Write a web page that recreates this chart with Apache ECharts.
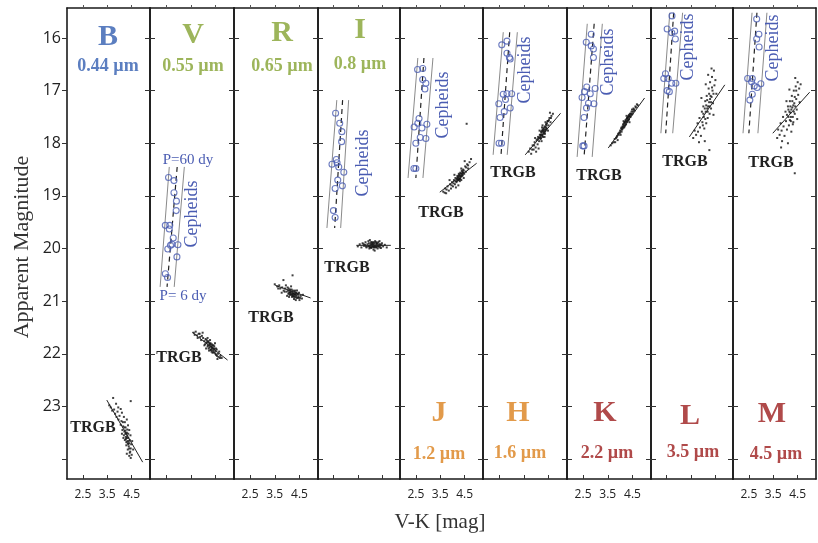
<!DOCTYPE html>
<html>
<head>
<meta charset="utf-8">
<script src="https://cdn.jsdelivr.net/npm/echarts@6/dist/echarts.min.js"></script>
<style>
  html, body { margin: 0; padding: 0; background: #fff; }
  #chart { width: 818px; height: 543px; }
</style>
</head>
<body>
<div id="chart"></div>
<script>
// ---- tick marks ----
const xTicks = [2.5, 3.5, 4.5];
const yTicks = [16, 17, 18, 19, 20, 21, 22, 23, 24];
const yTickLabels = [16, 17, 18, 19, 20, 21, 22, 23];

// ---- filter bands ----
const bands = ['B', 'V', 'R', 'I', 'J', 'H', 'K', 'L', 'M'];
const wavelengths = ['0.44 µm', '0.55 µm', '0.65 µm', '0.8 µm', '1.2 µm', '1.6 µm', '2.2 µm', '3.5 µm', '4.5 µm'];

// ---- Cepheid variables [V-K, apparent mag] ----
const cephV = [[2.60,18.65],[2.82,18.71],[2.82,18.94],[2.92,19.10],[2.91,19.28],[2.47,19.56],[2.63,19.63],[2.65,19.56],[2.79,19.80],[2.68,19.94],[2.57,20.01],[2.98,19.93],[2.94,20.16],[2.47,20.48],[2.56,20.55],[2.74,19.92]];
const cephI = [[2.58,17.43],[2.75,17.62],[2.84,17.78],[2.83,17.97],[2.61,18.31],[2.43,18.40],[2.64,18.37],[2.92,18.55],[2.67,18.70],[2.56,18.86],[2.86,18.81],[2.49,19.28],[2.56,19.41],[2.71,18.45]];
const cephJ = [[2.57,16.60],[2.78,16.58],[2.78,16.79],[2.91,16.86],[2.87,16.97],[2.63,17.53],[2.43,17.69],[2.58,17.62],[2.75,17.71],[2.95,17.64],[2.68,17.89],[2.91,17.91],[2.50,18.00],[2.42,18.48],[2.50,18.48]];
const cephH = [[2.61,16.13],[2.82,16.06],[2.82,16.29],[2.92,16.37],[2.95,16.40],[2.67,17.07],[2.82,17.06],[2.49,17.25],[2.76,17.17],[3.01,17.06],[2.71,17.40],[2.95,17.33],[2.54,17.51],[2.50,18.00],[2.60,18.00]];
const cephK = [[2.63,16.08],[2.83,15.93],[2.83,16.15],[2.92,16.21],[2.92,16.37],[2.65,16.93],[2.56,17.02],[2.46,17.13],[2.79,17.06],[2.99,16.96],[2.72,17.24],[2.64,17.33],[2.94,17.25],[2.54,17.51],[2.49,18.05],[2.54,18.05]];
const cephL = [[2.72,15.58],[2.52,15.83],[2.71,15.90],[2.83,15.87],[2.86,16.02],[2.45,16.68],[2.56,16.77],[2.71,16.86],[2.88,16.86],[2.52,17.00],[2.61,17.02],[2.38,16.77]];
const cephM = [[2.82,15.64],[2.91,15.93],[2.82,16.02],[2.92,16.17],[2.45,16.77],[2.64,16.77],[2.61,16.83],[2.72,16.91],[2.84,16.94],[2.99,16.87],[2.64,17.07],[2.54,17.18]];

// ---- Cepheid instability strip: [V-K at bright end, V-K at faint end] for edge, ridge, edge ----
const stripMagV = [18.45, 20.73];
const stripV = [[2.63, 2.26], [2.95, 2.54], [3.24, 2.83]];
const stripMagI = [17.18, 19.61];
const stripI = [[2.63, 2.22], [2.87, 2.54], [3.12, 2.79]];
const stripMagJ = [16.38, 18.66];
const stripJ = [[2.58, 2.18], [2.83, 2.50], [3.20, 2.79]];
const stripMagH = [15.89, 18.22];
const stripH = [[2.67, 2.26], [2.93, 2.58], [3.24, 2.83]];
const stripMagK = [15.73, 18.26];
const stripK = [[2.67, 2.26], [2.95, 2.54], [3.28, 2.87]];
const stripMagL = [15.52, 17.81];
const stripL = [[2.63, 2.26], [2.79, 2.46], [3.16, 2.75]];
const stripMagM = [15.52, 17.81];
const stripM = [[2.63, 2.26], [2.83, 2.50], [3.24, 2.87]];

// ---- red giant branch stars near the tip [V-K, apparent mag] ----
const rgbB = [[3.74,22.84],[4.46,22.90],[3.86,22.95],[3.95,23.02],[4.05,23.05],[3.92,23.10],[4.10,23.12],[4.00,23.18],[4.18,23.20],[3.96,23.25],[4.08,23.28],[4.22,23.30],[4.30,23.25],[4.05,23.35],[4.15,23.38],[4.25,23.40],[4.35,23.36],[4.12,23.45],[4.20,23.48],[4.30,23.50],[4.40,23.45],[4.18,23.55],[4.26,23.58],[4.36,23.60],[4.45,23.55],[4.22,23.64],[4.32,23.66],[4.40,23.70],[4.28,23.74],[4.38,23.76],[4.48,23.72],[4.34,23.82],[4.44,23.86],[4.30,23.90],[4.40,23.94],[4.50,23.92],[4.16,23.60],[4.10,23.52],[4.46,23.80],[4.52,23.66],
  [3.58,22.98],[3.64,23.02],[3.70,23.08],[3.78,23.06],[3.82,23.14],[3.88,23.20],[4.24,23.46],[4.28,23.52],[4.32,23.56],[4.26,23.62],[4.34,23.70],[4.30,23.60],[4.38,23.66],[4.24,23.52],[4.36,23.52],[4.42,23.64],[4.28,23.68],[4.40,23.80],[4.46,23.98],[4.56,23.82],[4.20,23.40],[4.14,23.30],[4.32,23.44],[4.36,23.72],[4.42,23.88]];
const rgbV = [[3.62,21.60],[3.70,21.58],[3.75,21.65],[3.82,21.62],[3.88,21.68],[3.95,21.66],[3.92,21.74],[4.00,21.70],[4.05,21.76],[4.10,21.72],[4.08,21.82],[4.15,21.78],[4.20,21.84],[4.25,21.80],[4.22,21.90],[4.30,21.86],[4.35,21.82],[4.32,21.93],[4.40,21.90],[4.45,21.86],[4.42,21.97],[4.50,21.95],[4.55,21.92],[4.52,22.02],[4.60,22.00],[4.65,21.96],[4.62,22.06],[4.70,22.04],[4.75,22.08],[4.18,21.70],[4.28,21.74],[4.12,21.90],[4.38,21.98],[4.48,21.80],[3.98,21.60],[4.58,22.10],[4.36,21.88],[4.26,21.88],[4.46,21.92],[4.05,21.84],
  [4.14,21.80],[4.18,21.86],[4.22,21.78],[4.26,21.84],[4.30,21.80],[4.30,21.92],[4.34,21.86],[4.38,21.84],[4.40,21.94],[4.44,21.90],[4.24,21.94],[4.34,21.96],[4.20,21.76],[4.46,21.98],[4.28,21.82],[3.66,21.64],[3.78,21.70],[3.86,21.62],[4.52,21.90],[4.56,22.04],[4.68,22.08],[4.14,21.74],[4.36,21.90],[4.42,21.84],[4.50,22.00]];
const rgbR = [[3.50,20.68],[3.60,20.72],[3.68,20.70],[3.72,20.76],[3.80,20.74],[3.85,20.60],[3.86,20.80],[3.92,20.76],[3.98,20.82],[4.02,20.74],[4.05,20.86],[4.10,20.80],[4.14,20.88],[4.18,20.78],[4.22,20.84],[4.22,20.51],[4.26,20.90],[4.30,20.82],[4.34,20.88],[4.38,20.94],[4.42,20.86],[4.46,20.92],[4.50,20.98],[4.55,20.90],[4.60,20.95],[4.08,20.92],[4.28,20.96],[3.95,20.70],[4.16,20.72],[4.40,20.80],[4.64,20.88],[4.35,20.98],[4.20,20.92],[4.00,20.90],[4.48,20.84],[3.78,20.84],[4.12,20.84],[4.32,20.86],
  [4.04,20.80],[4.08,20.84],[4.12,20.78],[4.16,20.86],[4.18,20.82],[4.20,20.88],[4.24,20.80],[4.26,20.86],[4.28,20.92],[4.30,20.88],[4.32,20.80],[4.36,20.84],[4.38,20.90],[4.40,20.86],[4.44,20.94],[4.10,20.88],[4.22,20.90],[4.34,20.92],[3.90,20.82],[4.06,20.76],[4.46,20.88],[4.52,20.94],[4.14,20.82],[4.24,20.86],[3.64,20.76]];
const rgbI = [[3.50,19.96],[3.58,19.92],[3.65,19.98],[3.70,19.90],[3.76,19.95],[3.82,19.88],[3.86,19.98],[3.90,19.92],[3.94,19.86],[3.98,20.00],[4.02,19.94],[4.05,19.88],[4.08,19.97],[4.12,19.90],[4.15,20.02],[4.18,19.94],[4.22,19.86],[4.25,19.98],[4.28,19.91],[4.32,20.00],[4.35,19.88],[4.38,19.95],[4.42,19.92],[4.46,19.99],[4.50,19.90],[4.55,19.96],[4.62,19.93],[4.70,19.98],[4.00,19.84],[4.20,20.04],[3.96,19.95],[4.10,19.94],[4.30,19.94],[3.80,19.93],[4.40,19.86],[4.16,19.97],
  [3.92,19.96],[3.96,19.90],[4.00,19.97],[4.04,19.91],[4.06,19.99],[4.10,19.88],[4.12,19.96],[4.14,19.92],[4.18,19.98],[4.20,19.90],[4.24,19.94],[4.26,19.88],[4.28,19.97],[4.30,19.90],[4.34,19.96],[4.36,19.92],[4.02,19.98],[4.16,19.88],[4.22,19.96],[4.08,19.92],[3.84,19.96],[3.74,19.92],[4.44,19.95],[4.48,19.93],[4.40,19.98]];
const rgbJ = [[3.62,18.92],[3.70,18.86],[3.74,18.95],[3.80,18.82],[3.85,18.90],[3.90,18.78],[3.94,18.86],[3.98,18.74],[4.02,18.82],[4.06,18.70],[4.10,18.78],[4.12,18.66],[4.16,18.74],[4.20,18.62],[4.22,18.70],[4.26,18.58],[4.28,18.68],[4.32,18.56],[4.34,18.64],[4.38,18.52],[4.40,18.62],[4.44,18.50],[4.48,18.58],[4.52,18.44],[4.55,18.54],[4.60,18.40],[4.64,18.48],[4.70,18.36],[4.76,18.30],[4.58,17.63],[4.30,18.72],[4.18,18.68],[4.36,18.48],[4.46,18.66],[4.08,18.60],[4.24,18.80],[3.88,18.70],[4.50,18.34],[4.14,18.84],[4.42,18.56],
  [4.18,18.72],[4.22,18.64],[4.24,18.68],[4.26,18.62],[4.28,18.60],[4.30,18.66],[4.32,18.62],[4.34,18.58],[4.36,18.62],[4.38,18.58],[4.40,18.54],[4.42,18.60],[4.44,18.56],[4.20,18.66],[4.26,18.70],[4.32,18.68],[4.46,18.52],[4.12,18.72],[3.96,18.80],[4.04,18.76],[3.76,18.88],[3.68,18.94],[4.56,18.46],[4.64,18.42],[4.36,18.70]];
const rgbH = [[3.70,18.16],[3.76,18.10],[3.80,18.20],[3.86,18.04],[3.90,18.12],[3.94,17.98],[3.98,18.08],[4.02,17.94],[4.06,18.02],[4.08,17.88],[4.12,17.96],[4.15,17.84],[4.18,17.92],[4.20,17.78],[4.24,17.86],[4.27,17.74],[4.30,17.82],[4.33,17.70],[4.36,17.78],[4.40,17.64],[4.43,17.72],[4.46,17.58],[4.50,17.66],[4.54,17.52],[4.58,17.60],[4.62,17.48],[4.68,17.44],[4.00,18.16],[4.10,18.10],[4.22,17.96],[4.34,17.88],[4.38,17.60],[4.26,17.66],[4.14,17.76],[4.48,17.76],[4.56,17.42],[3.96,17.90],[4.30,17.76],[4.20,17.84],[4.40,17.74],
  [4.16,17.88],[4.18,17.84],[4.22,17.80],[4.24,17.76],[4.26,17.84],[4.28,17.78],[4.30,17.72],[4.32,17.80],[4.34,17.74],[4.36,17.68],[4.38,17.76],[4.40,17.70],[4.42,17.66],[4.44,17.62],[4.20,17.90],[4.28,17.88],[4.36,17.82],[4.12,17.90],[4.06,17.92],[3.92,18.04],[3.84,18.12],[4.48,17.58],[4.52,17.56],[4.60,17.52],[4.24,17.70]];
const rgbK = [[3.62,18.04],[3.68,18.00],[3.74,17.98],[3.78,17.92],[3.84,17.90],[3.88,17.86],[3.92,17.82],[3.96,17.80],[4.00,17.76],[4.04,17.72],[4.06,17.78],[4.10,17.68],[4.12,17.64],[4.16,17.70],[4.18,17.60],[4.22,17.56],[4.24,17.64],[4.28,17.52],[4.30,17.58],[4.34,17.48],[4.36,17.54],[4.40,17.44],[4.42,17.50],[4.46,17.40],[4.50,17.44],[4.54,17.34],[4.58,17.38],[4.62,17.30],[4.68,17.26],[4.72,17.28],[3.90,17.94],[4.02,17.84],[4.14,17.58],[4.26,17.48],[4.38,17.60],[4.20,17.66],[3.80,17.98],[4.48,17.36],[4.08,17.74],[4.32,17.56],
  [4.12,17.70],[4.14,17.66],[4.16,17.62],[4.18,17.68],[4.20,17.60],[4.22,17.64],[4.24,17.58],[4.26,17.54],[4.28,17.60],[4.30,17.52],[4.32,17.50],[4.34,17.56],[4.36,17.46],[4.38,17.50],[4.40,17.48],[4.44,17.44],[4.10,17.72],[4.06,17.70],[4.00,17.80],[3.94,17.84],[3.86,17.88],[4.46,17.46],[4.52,17.40],[4.56,17.36],[4.64,17.32]];
const rgbL = [[3.60,17.90],[3.66,17.76],[3.72,17.84],[3.78,17.62],[3.80,17.78],[3.86,17.52],[3.88,17.70],[3.92,17.86],[3.96,17.40],[3.98,17.60],[4.02,17.30],[4.04,17.50],[4.06,17.72],[4.10,17.20],[4.12,17.40],[4.14,17.62],[4.16,17.10],[4.18,17.34],[4.20,17.52],[4.24,16.96],[4.26,17.22],[4.28,17.44],[4.30,16.84],[4.32,17.10],[4.34,17.34],[4.38,16.74],[4.40,17.00],[4.42,17.24],[4.46,16.62],[4.48,16.90],[4.52,16.80],[4.36,16.58],[4.27,18.13],[4.08,17.96],[3.84,17.98],[4.22,16.70],[4.44,17.46],[4.12,16.88],[3.94,17.14],[4.56,17.06],
  [4.02,17.44],[4.08,17.34],[4.14,17.28],[4.18,17.18],[4.22,17.30],[4.26,17.06],[4.30,17.16],[4.34,17.22],[4.38,16.94],[4.20,17.40],[4.10,17.54],[4.00,17.66],[4.28,17.30],[4.44,17.06],[4.36,17.12]];
const rgbM = [[3.66,17.90],[3.70,17.74],[3.76,17.84],[3.80,17.62],[3.84,17.76],[3.90,17.50],[3.92,17.68],[3.96,17.86],[4.00,17.40],[4.02,17.58],[4.06,17.74],[4.10,17.30],[4.12,17.50],[4.14,17.66],[4.18,17.20],[4.20,17.42],[4.22,17.58],[4.26,17.10],[4.28,17.32],[4.30,17.50],[4.34,17.00],[4.36,17.24],[4.38,17.44],[4.42,16.92],[4.44,17.16],[4.46,17.36],[4.50,16.84],[4.52,17.08],[4.56,16.96],[4.40,16.76],[4.38,18.57],[4.10,18.00],[4.24,17.78],[4.58,17.22],[4.32,17.60],[3.86,17.96],[4.48,17.54],[4.16,16.98],[4.62,16.88],[4.04,17.20],
  [4.06,17.46],[4.12,17.36],[4.16,17.40],[4.20,17.30],[4.24,17.36],[4.28,17.20],[4.32,17.28],[4.34,17.40],[4.38,17.12],[4.40,17.30],[4.22,17.50],[4.18,17.56],[3.82,18.08],[4.30,17.64],[4.44,17.00]];

// ---- fitted tip-of-the-red-giant-branch slope [[V-K, mag], [V-K, mag]] ----
const tipB = [[3.48, 22.88], [4.95, 24.06]];
const tipV = [[3.56, 21.59], [4.99, 22.12]];
const tipR = [[3.52, 20.70], [4.95, 20.94]];
const tipI = [[3.44, 19.94], [4.87, 19.94]];
const tipJ = [[3.48, 18.93], [4.99, 18.38]];
const tipH = [[3.56, 18.22], [4.99, 17.43]];
const tipK = [[3.52, 18.09], [4.99, 17.14]];
const tipL = [[3.44, 17.88], [4.91, 16.89]];
const tipM = [[3.48, 17.81], [4.99, 17.03]];

// ---- colours & fonts ----
const BLUE = '#5b7ec0', GREEN = '#9db55b', ORANGE = '#e29a4a', RED = '#b04a4a';
const CEPH = '#4a5cb2';
const SERIF = '"Liberation Serif", "DejaVu Serif", serif';
const SANS = '"Open Sans", "DejaVu Sans", sans-serif';

const panels = [
  { color: BLUE,   ceph: null,  strip: null,   stripMag: null,      rgb: rgbB, tip: tipB },
  { color: GREEN,  ceph: cephV, strip: stripV, stripMag: stripMagV, rgb: rgbV, tip: tipV },
  { color: GREEN,  ceph: null,  strip: null,   stripMag: null,      rgb: rgbR, tip: tipR },
  { color: GREEN,  ceph: cephI, strip: stripI, stripMag: stripMagI, rgb: rgbI, tip: tipI },
  { color: ORANGE, ceph: cephJ, strip: stripJ, stripMag: stripMagJ, rgb: rgbJ, tip: tipJ },
  { color: ORANGE, ceph: cephH, strip: stripH, stripMag: stripMagH, rgb: rgbH, tip: tipH },
  { color: RED,    ceph: cephK, strip: stripK, stripMag: stripMagK, rgb: rgbK, tip: tipK },
  { color: RED,    ceph: cephL, strip: stripL, stripMag: stripMagL, rgb: rgbL, tip: tipL },
  { color: RED,    ceph: cephM, strip: stripM, stripMag: stripMagM, rgb: rgbM, tip: tipM }
];

// panel layout (pixels)
const panelLefts = [67, 150, 234, 318, 400, 483, 567, 651, 733];
const panelRight = 816;
const PANEL_TOP = 8, PANEL_H = 471;
const X_MIN = 1.85, X_MAX = 5.25, Y_MIN = 15.43, Y_MAX = 24.38;

const frame = { show: true, onZero: false, lineStyle: { color: '#1a1a1a', width: 1.6 } };

const grid = [], xAxis = [], yAxis = [], series = [];
panels.forEach((p, i) => {
  const left = panelLefts[i];
  const right = i < panelLefts.length - 1 ? panelLefts[i + 1] : panelRight;
  grid.push({ left: left, top: PANEL_TOP, width: right - left, height: PANEL_H });

  xAxis.push({
    gridIndex: i, type: 'value', min: X_MIN, max: X_MAX, position: 'bottom',
    axisLine: frame,
    axisTick: { customValues: xTicks, inside: true, length: 4, lineStyle: { color: '#333' } },
    axisLabel: { show: i % 2 === 0, customValues: xTicks, formatter: v => v.toFixed(1),
                 fontFamily: SANS, fontSize: 12, color: '#222', margin: 10 },
    splitLine: { show: false }
  });
  xAxis.push({
    gridIndex: i, type: 'value', min: X_MIN, max: X_MAX, position: 'top',
    axisLine: frame,
    axisTick: { customValues: xTicks, inside: false, length: 3, lineStyle: { color: '#555' } },
    axisLabel: { show: false },
    splitLine: { show: false }
  });
  yAxis.push({
    gridIndex: i, type: 'value', inverse: true, min: Y_MIN, max: Y_MAX, position: 'left',
    axisLine: frame,
    axisTick: { customValues: yTicks, inside: i > 0, length: 5, lineStyle: { color: '#333' } },
    axisLabel: { show: i === 0, customValues: yTickLabels, fontFamily: SANS, fontSize: 16,
                 color: '#222', margin: 6 },
    splitLine: { show: false }
  });
  yAxis.push({
    gridIndex: i, type: 'value', inverse: true, min: Y_MIN, max: Y_MAX, position: 'right',
    axisLine: frame,
    axisTick: { customValues: yTicks, inside: true, length: 5, lineStyle: { color: '#333' } },
    axisLabel: { show: false },
    splitLine: { show: false }
  });

  const xi = 2 * i, yi = 2 * i;

  // instability strip: two edges (grey) and the ridge line (dashed)
  if (p.strip) {
    p.strip.forEach((edge, k) => {
      series.push({
        type: 'line', xAxisIndex: xi, yAxisIndex: yi, silent: true, symbol: 'none',
        data: [[edge[0], p.stripMag[0]], [edge[1], p.stripMag[1]]],
        lineStyle: k === 1 ? { color: '#222', width: 1.2, type: [5, 4] }
                           : { color: '#8a8a8a', width: 1 },
        z: 2
      });
    });
    series.push({
      type: 'scatter', xAxisIndex: xi, yAxisIndex: yi, silent: true,
      symbol: 'circle', symbolSize: 6, data: p.ceph,
      itemStyle: { color: 'rgba(255,255,255,0)', borderColor: CEPH, borderWidth: 1.1 },
      z: 4
    });
  }

  // red giants
  series.push({
    type: 'scatter', xAxisIndex: xi, yAxisIndex: yi, silent: true,
    symbol: 'rect', symbolSize: 2, data: p.rgb,
    itemStyle: { color: '#111' }, z: 3
  });
  // tip slope
  series.push({
    type: 'line', xAxisIndex: xi, yAxisIndex: yi, silent: true, symbol: 'none',
    data: p.tip, lineStyle: { color: '#222', width: 1 }, z: 5
  });
});

// ---- text annotations ----
function txt(text, x, y, font, fill, extra) {
  return Object.assign({
    type: 'text', x: x, y: y, silent: true, z: 100,
    style: { text: text, font: font, fill: fill, align: 'center', verticalAlign: 'middle' }
  }, extra || {});
}

const titlePos = [[108, 37, 108, 66], [193, 35, 193, 66], [282, 33, 282, 66], [360, 30, 360, 64],
                  [439, 413, 439, 454], [518, 413, 520, 453], [605, 413, 607, 453],
                  [690, 416, 693, 452], [772, 414, 776, 454]];
const trgbPos = [[93, 428], [179, 358], [271, 318], [347, 268], [441, 213], [513, 173], [599, 176], [685, 162], [771, 163]];
const cephLabelPos = { 1: [192, 214], 3: [363, 163], 4: [443, 105], 5: [525, 70], 6: [608, 62], 7: [688, 47], 8: [773, 48] };

const graphic = [];
panels.forEach((p, i) => {
  const t = titlePos[i];
  graphic.push(txt(bands[i], t[0], t[1], 'bold 30px ' + SERIF, p.color));
  graphic.push(txt(wavelengths[i], t[2], t[3], 'bold 18px ' + SERIF, p.color));
  graphic.push(txt('TRGB', trgbPos[i][0], trgbPos[i][1], 'bold 16px ' + SERIF, '#222'));
  if (cephLabelPos[i]) {
    graphic.push(txt('Cepheids', cephLabelPos[i][0], cephLabelPos[i][1], '18px ' + SERIF, CEPH,
                     { rotation: Math.PI / 2 }));
  }
});
graphic.push(txt('P=60 dy', 188, 160, '15px ' + SERIF, CEPH));
graphic.push(txt('P= 6 dy', 183, 296, '15px ' + SERIF, CEPH));
graphic.push(txt('Apparent Magnitude', 22, 247, '22px ' + SERIF, '#333', { rotation: Math.PI / 2 }));
graphic.push(txt('V-K [mag]', 440, 522, '21px ' + SERIF, '#333'));

const chart = echarts.init(document.getElementById('chart'), null, { renderer: 'canvas' });
chart.setOption({
  animation: false,
  backgroundColor: '#fff',
  grid: grid,
  xAxis: xAxis,
  yAxis: yAxis,
  series: series,
  graphic: graphic
});
</script>
</body>
</html>
